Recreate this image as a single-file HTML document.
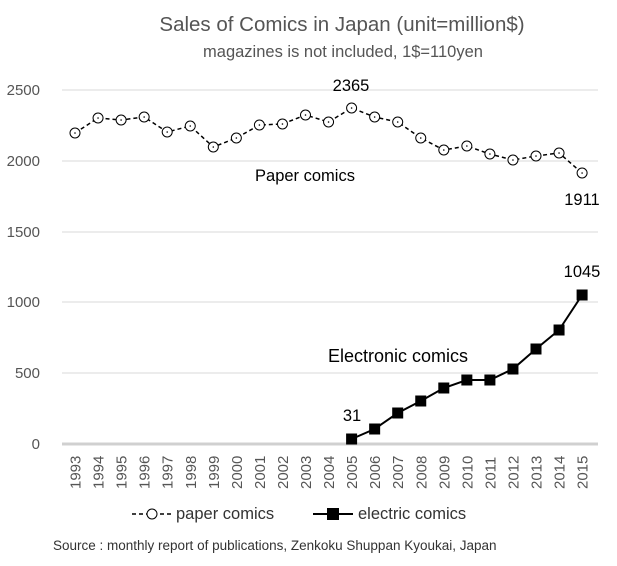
<!DOCTYPE html><html><head><style>body{margin:0;background:#fff}</style></head><body>
<svg width="617" height="561" xmlns="http://www.w3.org/2000/svg" font-family="Liberation Sans, sans-serif">
<rect width="617" height="561" fill="#fff"/>
<text x="342" y="31" font-size="20.5" text-anchor="middle" fill="#555">Sales of Comics in Japan (unit=million$)</text>
<text x="343" y="57" font-size="16.5" text-anchor="middle" fill="#555">magazines is not included, 1$=110yen</text>
<g stroke="#d9d9d9" stroke-width="1">
<line x1="62" x2="598" y1="90" y2="90"/><line x1="62" x2="598" y1="161" y2="161"/><line x1="62" x2="598" y1="232" y2="232"/><line x1="62" x2="598" y1="302" y2="302"/><line x1="62" x2="598" y1="373" y2="373"/></g>
<line x1="62" x2="598" y1="444" y2="444" stroke="#d0d0d0" stroke-width="3"/>
<g font-size="15" fill="#555" text-anchor="end">
<text x="40" y="95">2500</text><text x="40" y="166">2000</text><text x="40" y="237">1500</text><text x="40" y="307">1000</text><text x="40" y="378">500</text><text x="40" y="449">0</text></g>
<g font-size="15" fill="#555" id="yr"></g>
<polyline id="pp" fill="none" stroke="#000" stroke-width="1.5" stroke-dasharray="4,3"/>
<g id="pc"></g>
<polyline id="ep" fill="none" stroke="#000" stroke-width="2"/>
<g id="ec"></g>
<g font-size="16.5" fill="#000">
<text x="351" y="91" text-anchor="middle">2365</text>
<text x="305" y="181" text-anchor="middle">Paper comics</text>
<text x="582" y="205" text-anchor="middle">1911</text>
<text x="582" y="277" text-anchor="middle">1045</text>
<text x="398" y="362" text-anchor="middle" font-size="18">Electronic comics</text>
<text x="352" y="421" text-anchor="middle">31</text></g>
<g font-size="16.5" fill="#333">
<line x1="132" x2="172" y1="514" y2="514" stroke="#000" stroke-width="1.5" stroke-dasharray="4,3"/>
<circle cx="152" cy="514" r="5" fill="#fff" stroke="#000"/>
<text x="176" y="519">paper comics</text>
<line x1="313" x2="353" y1="514" y2="514" stroke="#000" stroke-width="2"/>
<rect x="327" y="508" width="12" height="12" fill="#000"/>
<text x="358" y="519">electric comics</text>
<text x="53" y="550" font-size="13.5">Source : monthly report of publications, Zenkoku Shuppan Kyoukai, Japan</text></g>
<script>
var ns="http://www.w3.org/2000/svg";
var p=[133,118,120,117,132,126,147,138,125,124,115,122,108,117,122,138,150,146,154,160,156,153,173];
var e=[439,429,413,401,388,380,380,369,349,330,295];
function X(i){return 75+23.05*i}
var yr=document.getElementById('yr');
for(var i=0;i<23;i++){var t=document.createElementNS(ns,'text');var x=X(i)+5.5;t.setAttribute('transform','translate('+x+',489) rotate(-90)');t.textContent=1993+i;yr.appendChild(t);}
var pts=p.map(function(y,i){return X(i)+','+y}).join(' ');
document.getElementById('pp').setAttribute('points',pts);
var pc=document.getElementById('pc');
p.forEach(function(y,i){var c=document.createElementNS(ns,'circle');c.setAttribute('cx',X(i));c.setAttribute('cy',y);c.setAttribute('r',5);c.setAttribute('fill','#fff');c.setAttribute('stroke','#000');pc.appendChild(c);var d=document.createElementNS(ns,'circle');d.setAttribute('cx',X(i));d.setAttribute('cy',y);d.setAttribute('r',0.8);pc.appendChild(d);});
document.getElementById('ep').setAttribute('points',e.map(function(y,i){return X(i+12)+','+y}).join(' '));
var ec=document.getElementById('ec');
e.forEach(function(y,i){var r=document.createElementNS(ns,'rect');r.setAttribute('x',X(i+12)-5.5);r.setAttribute('y',y-5.5);r.setAttribute('width',11);r.setAttribute('height',11);ec.appendChild(r);});
</script>
</svg></body></html>
